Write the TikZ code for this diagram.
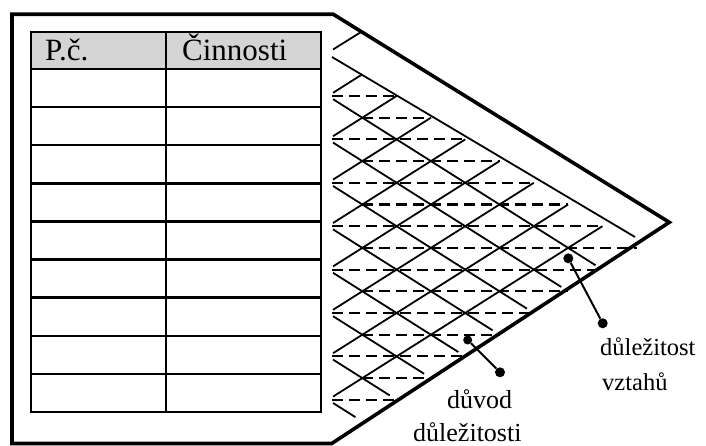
\documentclass[tikz,border=0pt]{standalone}
\usepackage{fontspec}
\setmainfont{Liberation Serif}
\definecolor{hdr}{RGB}{212,212,212}
\begin{document}
\begin{tikzpicture}[x=1pt,y=-1pt,
  frame/.style={line width=3.6pt, line join=miter},
  tbl/.style={line width=2.5pt},
  gridline/.style={line width=1.8pt},
  dsh/.style={line width=2.1pt, dash pattern=on 11pt off 6pt},
  dot/.style={circle, fill=black, inner sep=0pt, minimum size=10pt},
  conn/.style={line width=2pt},
  hd/.style={anchor=base west, inner sep=0pt, font=\fontsize{31}{36}\selectfont},
  lbla/.style={anchor=base west, inner sep=0pt, font=\fontsize{24.5}{29}\selectfont},
  lblb/.style={anchor=base west, inner sep=0pt, font=\fontsize{26}{30}\selectfont}]
\useasboundingbox (0,0) rectangle (706,446);
% outer frame
\draw[frame] (12,14.3) -- (333.3,14.3) -- (669.3,222.3) -- (331.7,443.5) -- (12,443.5) -- cycle;
% table
\fill[hdr] (31,32) rectangle (321,69);
\draw[tbl] (31,32) rectangle (321,412);
\draw[tbl] (166,32) -- (166,412);
\foreach \yy in {69,107.1,145.2,183.3,221.4,259.6,297.7,335.8,373.9}
  \draw[tbl] (31,\yy) -- (321,\yy);
\node[hd] (pc) at (45,61) {P.č.};
\node[hd] (cin) at (182,61) {Činnosti};
% lattice
\draw[gridline] (333,49.5) -- (361.6,31.7);
\draw[gridline] (332,57) -- (635,237);
\foreach \k in {1,...,8} {
  \pgfmathsetmacro{\vk}{52.6+43.4*\k}
  \pgfmathsetmacro{\ua}{\vk-3.16}
  \pgfmathsetmacro{\ux}{328+34.3*\k}
  \pgfmathsetmacro{\uy}{52.6+21.7*\k}
  \pgfmathsetmacro{\da}{\vk+3.16}
  \pgfmathsetmacro{\dx}{328+34.3*(8.8-\k)}
  \pgfmathsetmacro{\dy}{\vk+21.7*(8.8-\k)}
  \draw[gridline] (333,\ua) -- (\ux,\uy);
  \draw[gridline] (333,\da) -- (\dx,\dy);
}
\foreach \s in {2,...,16} {
  \pgfmathsetmacro{\yy}{52.6+21.7*\s}
  \pgfmathsetmacro{\xs}{mod(\s,2)==0 ? 332 : 362.3}
  \pgfmathsetmacro{\xe}{328+34.3*min(\s,18-\s)}
  \draw[dsh] (\xs,\yy) -- (\xe,\yy);
}
% connectors
\node[dot] (a1) at (568.3,258.3) {};
\node[dot] (a2) at (602.7,323.3) {};
\draw[conn] (a1) -- (a2);
\node[dot, minimum size=9pt] (b1) at (467.7,340) {};
\node[dot] (b2) at (500,372.3) {};
\draw[conn] (b1) -- (b2);
% labels
\node[lbla] (l1) at (600,355) {důležitost};
\node[lbla] (l2) at (602,390) {vztahů};
\node[lblb] (l3) at (447,408.3) {důvod};
\node[lblb] (l4) at (413,441.5) {důležitosti};
\end{tikzpicture}
\end{document}
